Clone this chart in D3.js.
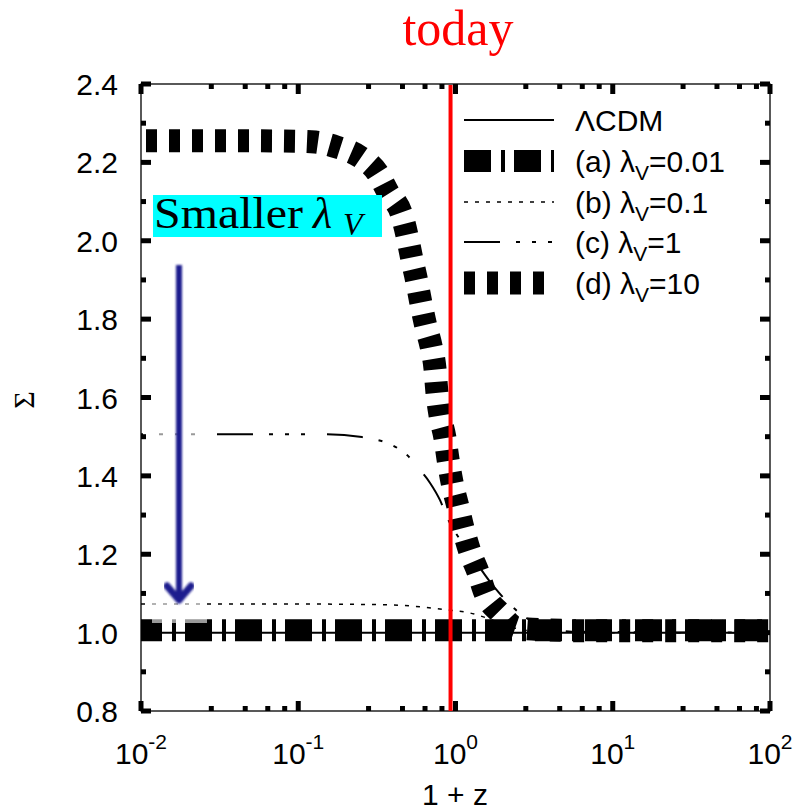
<!DOCTYPE html>
<html>
<head>
<meta charset="utf-8">
<script src="https://cdn.jsdelivr.net/npm/d3@7"></script>
<style>
  body { margin: 0; background: #fff; }
  svg { display: block; }
</style>
</head>
<body>
<div id="app"></div>
<script>
// axis setup
const xDomain = [0.01, 100];
const yDomain = [0.8, 2.4];
const xMajorTicks = [0.01, 0.1, 1, 10, 100];
const xTickExponents = ["-2", "-1", "0", "1", "2"];
const xMinorFactors = [2.8, 4.6, 6.4, 8.2];
const yMajorTicks = [0.8, 1.0, 1.2, 1.4, 1.6, 1.8, 2.0, 2.2, 2.4];
const yMinorTicks = [0.9, 1.1, 1.3, 1.5, 1.7, 1.9, 2.1, 2.3];
const todayZ = 0.93;

// LCDM
const lcdmZ = [0.01, 100];
const lcdmSigma = [1.0, 1.0];

// (a) lambda_V = 0.01
const aZ = [0.01, 1, 100];
const aSigma = [1.006, 1.006, 1.006];

// (b) lambda_V = 0.1
const bZ = [0.01, 0.1, 0.366, 0.594, 0.883, 1.24, 1.59, 2.06, 2.77, 4.6, 10, 100];
const bSigma = [1.073, 1.073, 1.071, 1.066, 1.058, 1.05, 1.037, 1.02, 1.006, 1.001, 1.0, 1.0];

// (c) lambda_V = 1
const cZ = [0.01, 0.152, 0.254, 0.299, 0.383, 0.492, 0.595, 0.689, 0.797, 0.883, 1.25, 1.78, 2.65, 4.0, 6.0, 100];
const cSigma = [1.506, 1.506, 1.499, 1.494, 1.481, 1.453, 1.415, 1.382, 1.338, 1.295, 1.2, 1.114, 1.045, 1.011, 1.002, 1.0];

// (d) lambda_V = 10
const dZ = [0.01, 0.05, 0.1, 0.128, 0.176, 0.247, 0.317, 0.372, 0.46, 0.5, 0.53, 0.565, 0.6, 0.645, 0.7, 0.74, 0.763, 0.797, 0.857, 0.896, 0.95, 1.037, 1.116, 1.236, 1.39, 1.541, 1.919, 2.46, 3.99, 6, 100];
const dSigma = [2.255, 2.255, 2.254, 2.252, 2.239, 2.214, 2.175, 2.124, 2.06, 2.0, 1.95, 1.9, 1.845, 1.785, 1.73, 1.675, 1.611, 1.555, 1.497, 1.443, 1.384, 1.321, 1.267, 1.206, 1.155, 1.101, 1.05, 1.012, 1.007, 1.005, 1.005];

const legendLabels = ["ΛCDM", "(a) λ", "(b) λ", "(c) λ", "(d) λ"];
const legendValues = ["", "=0.01", "=0.1", "=1", "=10"];

const series = [
  { z: lcdmZ, s: lcdmSigma, width: 2, dash: null, offset: 0 },
  { z: aZ, s: aSigma, width: 22, dash: "27,10,4,9", offset: 6 },
  { z: bZ, s: bSigma, width: 1.5, dash: "4,7", offset: 0 },
  { z: cZ, s: cSigma, width: 2, dash: "36,16,4,12,4,12,4,22", offset: 34 },
  { z: dZ, s: dSigma, width: 23, dash: "11,12", offset: 18 },
];

const width = 796, height = 812;
const plot = { left: 141, right: 770, top: 84, bottom: 711 };

const x = d3.scaleLog().domain(xDomain).range([plot.left, plot.right]);
const y = d3.scaleLinear().domain(yDomain).range([plot.bottom, plot.top]);

const svg = d3.select("#app").append("svg")
  .attr("width", width).attr("height", height);

const defs = svg.append("defs");
defs.append("clipPath").attr("id", "clip")
  .append("rect")
  .attr("x", plot.left).attr("y", plot.top)
  .attr("width", plot.right - plot.left).attr("height", plot.bottom - plot.top);
defs.append("filter").attr("id", "soft")
  .append("feGaussianBlur").attr("stdDeviation", 0.9);

// curves
const line = d3.line()
  .x(d => x(d[0])).y(d => y(d[1]))
  .curve(d3.curveMonotoneX);

const curves = svg.append("g").attr("clip-path", "url(#clip)");
series.forEach(sr => {
  curves.append("path")
    .datum(sr.z.map((z, i) => [z, sr.s[i]]))
    .attr("d", line)
    .attr("fill", "none")
    .attr("stroke", "#000")
    .attr("stroke-width", sr.width)
    .attr("stroke-linecap", "butt")
    .attr("stroke-dasharray", sr.dash)
    .attr("stroke-dashoffset", sr.offset);
});

// faded patch behind the arrow
svg.append("rect")
  .attr("x", 152).attr("y", 255).attr("width", 55).attr("height", 368)
  .attr("fill", "#fff").attr("opacity", 0.6);

// arrow
const arrow = svg.append("g").attr("filter", "url(#soft)")
  .attr("stroke", "#1b1b8e").attr("fill", "none");
arrow.append("line")
  .attr("x1", 179).attr("x2", 179).attr("y1", 265).attr("y2", 598)
  .attr("stroke-width", 6);
arrow.append("polyline")
  .attr("points", "167,586 179,600 191,586")
  .attr("stroke-width", 7).attr("stroke-linejoin", "round").attr("stroke-linecap", "round");

// frame
svg.append("rect")
  .attr("x", plot.left).attr("y", plot.top)
  .attr("width", plot.right - plot.left).attr("height", plot.bottom - plot.top)
  .attr("fill", "none").attr("stroke", "#000").attr("stroke-width", 1.3);

// ticks
const ticks = svg.append("g").attr("stroke", "#000").attr("stroke-width", 5);
const xMinor = [];
xMajorTicks.slice(0, -1).forEach(t => xMinorFactors.forEach(f => xMinor.push(t * f)));
function xTick(v, len) {
  ticks.append("line").attr("x1", x(v)).attr("x2", x(v))
    .attr("y1", plot.bottom).attr("y2", plot.bottom - len);
  ticks.append("line").attr("x1", x(v)).attr("x2", x(v))
    .attr("y1", plot.top).attr("y2", plot.top + len);
}
function yTick(v, len) {
  ticks.append("line").attr("y1", y(v)).attr("y2", y(v))
    .attr("x1", plot.left).attr("x2", plot.left + len);
  ticks.append("line").attr("y1", y(v)).attr("y2", y(v))
    .attr("x1", plot.right).attr("x2", plot.right - len);
}
xMajorTicks.forEach(v => xTick(v, 10));
xMinor.forEach(v => xTick(v, 5));
yMajorTicks.forEach(v => yTick(v, 10));
yMinorTicks.forEach(v => yTick(v, 5));

// today line
svg.append("line")
  .attr("x1", x(todayZ)).attr("x2", x(todayZ))
  .attr("y1", plot.top + 1).attr("y2", plot.bottom)
  .attr("stroke", "#ff0000").attr("stroke-width", 4);

svg.append("text")
  .attr("x", 458).attr("y", 45)
  .attr("text-anchor", "middle")
  .attr("font-family", "'Liberation Serif', serif")
  .attr("font-size", 50)
  .attr("fill", "#ff0000")
  .text("today");

// tick labels
const sans = "'Liberation Sans', Arial, sans-serif";
svg.append("g").selectAll("text").data(yMajorTicks).join("text")
  .attr("x", 118).attr("y", d => y(d) + 11)
  .attr("text-anchor", "end")
  .attr("font-family", sans).attr("font-size", 30)
  .text(d => d.toFixed(1));

const xl = svg.append("g").selectAll("text").data(xMajorTicks).join("text")
  .attr("x", d => x(d)).attr("y", 764)
  .attr("text-anchor", "middle")
  .attr("font-family", sans).attr("font-size", 30);
xl.append("tspan").text("10");
xl.append("tspan").attr("dy", -15).attr("font-size", 21)
  .text((d, i) => xTickExponents[i]);

svg.append("text")
  .attr("x", 455).attr("y", 805)
  .attr("text-anchor", "middle")
  .attr("font-family", sans).attr("font-size", 30)
  .text("1 + z");

svg.append("text")
  .attr("transform", "translate(34,400) rotate(-90)")
  .attr("text-anchor", "middle")
  .attr("font-family", "'Liberation Serif', serif").attr("font-size", 30)
  .text("Σ");

// legend
const legendRows = [120, 161, 202, 242, 283];
const legend = svg.append("g");
series.forEach((sr, i) => {
  legend.append("line")
    .attr("x1", 464).attr("x2", 554)
    .attr("y1", legendRows[i]).attr("y2", legendRows[i])
    .attr("stroke", "#000")
    .attr("stroke-width", sr.width)
    .attr("stroke-dasharray", sr.dash);
  const t = legend.append("text")
    .attr("x", 575).attr("y", legendRows[i] + 11)
    .attr("font-family", sans).attr("font-size", 30);
  t.append("tspan").text(legendLabels[i]);
  if (legendValues[i]) {
    t.append("tspan").attr("dy", 8).attr("font-size", 21).text("V");
    t.append("tspan").attr("dy", -8).text(legendValues[i]);
  }
});

// annotation box
svg.append("rect")
  .attr("x", 153).attr("y", 195).attr("width", 229).attr("height", 42)
  .attr("fill", "#00ffff");
const serif = "'Liberation Serif', serif";
svg.append("text")
  .attr("x", 154).attr("y", 228)
  .attr("font-family", serif).attr("font-size", 44)
  .attr("textLength", 149).attr("lengthAdjust", "spacingAndGlyphs")
  .text("Smaller");
svg.append("text")
  .attr("x", 313).attr("y", 228)
  .attr("font-family", serif).attr("font-size", 44).attr("font-style", "italic")
  .text("λ");
svg.append("text")
  .attr("x", 343).attr("y", 235)
  .attr("font-family", serif).attr("font-size", 32).attr("font-style", "italic")
  .text("V");
</script>
</body>
</html>
